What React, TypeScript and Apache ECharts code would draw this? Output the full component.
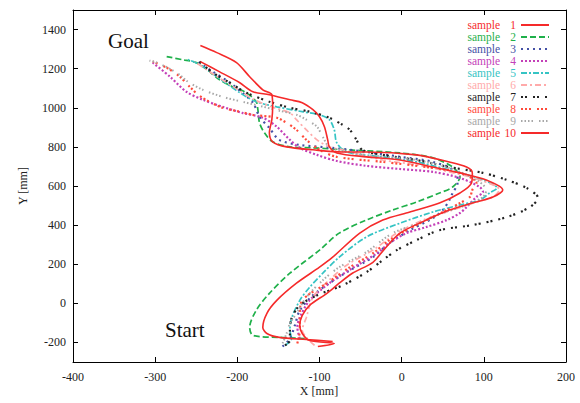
import React, { useEffect, useRef } from 'react';
import * as echarts from 'echarts';

const sampleNames = ['sample 1', 'sample 2', 'sample 3', 'sample 4', 'sample 5', 'sample 6', 'sample 7', 'sample 8', 'sample 9', 'sample 10'];

const sample1: number[][] = [
  [-84, -195], [-116, -185], [-149, -174], [-164, -154], [-169, -123], [-164, -51], [-152, 15], [-128, 103],
  [-100, 185], [-84, 236], [-51, 359], [-23, 426], [10, 467], [46, 513], [71, 564], [85, 615], [86, 667],
  [79, 697], [58, 723], [18, 759], [-43, 774], [-72, 774], [-108, 785], [-140, 800], [-157, 826], [-161, 872],
  [-158, 939], [-157, 1005], [-158, 1067], [-169, 1092], [-185, 1159], [-201, 1231], [-225, 1282], [-245, 1318],
];
const sample2: number[][] = [
  [-118, -180], [-149, -174], [-181, -164], [-185, -123], [-177, -36], [-161, 51], [-136, 154], [-100, 272],
  [-76, 359], [-43, 426], [-11, 477], [18, 518], [46, 564], [62, 595], [71, 646], [62, 697], [38, 744],
  [-2, 769], [-67, 785], [-108, 795], [-136, 800], [-157, 826], [-167, 872], [-173, 923], [-175, 990],
  [-177, 1031], [-189, 1077], [-206, 1108], [-222, 1144], [-237, 1195], [-250, 1231], [-267, 1246], [-286, 1262],
];
const sample3: number[][] = [
  [-145, -221], [-136, -180], [-130, -113], [-124, -36], [-108, 41], [-88, 103], [-63, 169], [-35, 236],
  [-15, 308], [10, 374], [38, 436], [50, 477], [58, 528], [62, 564], [68, 615], [67, 667], [38, 723],
  [-2, 749], [-43, 774], [-84, 795], [-124, 810], [-149, 836], [-161, 897], [-173, 954], [-181, 1026],
  [-194, 1077], [-209, 1128], [-230, 1185], [-248, 1236],
];
const sample4: number[][] = [
  [-124, -180], [-127, -123], [-124, -72], [-112, 15], [-88, 103], [-60, 180], [-30, 256], [-15, 308],
  [6, 359], [30, 390], [55, 426], [71, 462], [79, 492], [91, 544], [99, 569], [95, 595], [71, 641],
  [38, 672], [-2, 687], [-43, 703], [-79, 728], [-103, 759], [-124, 795], [-136, 836], [-152, 903],
  [-169, 949], [-194, 974], [-218, 1005], [-242, 1041], [-262, 1082], [-282, 1159], [-303, 1231],
];
const sample5: number[][] = [
  [-142, -215], [-134, -180], [-136, -139], [-134, -77], [-124, 15], [-112, 82], [-96, 154], [-76, 236],
  [-43, 339], [-2, 410], [38, 467], [71, 503], [95, 528], [107, 564], [116, 590], [99, 631], [58, 682],
  [18, 723], [-23, 749], [-67, 774], [-79, 821], [-82, 887], [-88, 939], [-100, 964], [-121, 980],
  [-152, 1005], [-177, 1031], [-197, 1077], [-225, 1159], [-246, 1221], [-260, 1246],
];
const sample6: number[][] = [
  [-106, -215], [-116, -174], [-121, -139], [-116, -72], [-108, 31], [-91, 108], [-67, 195], [-35, 272],
  [-6, 359], [26, 426], [62, 477], [91, 518], [111, 544], [119, 580], [95, 631], [58, 672], [18, 708],
  [-23, 733], [-72, 785], [-88, 800], [-103, 836], [-116, 887], [-128, 939], [-136, 974], [-155, 1000],
  [-179, 1041], [-203, 1103], [-228, 1169], [-252, 1236],
];
const sample7: number[][] = [
  [-142, -215], [-136, -190], [-136, -139], [-134, -77], [-124, -10], [-103, 41], [-72, 92], [-43, 159],
  [-23, 221], [-6, 272], [18, 323], [46, 374], [86, 400], [128, 441], [156, 492], [166, 539], [152, 590],
  [128, 631], [99, 667], [58, 697], [18, 733], [-23, 759], [-48, 785], [-55, 836], [-63, 887], [-72, 913],
  [-88, 949], [-112, 980], [-136, 1000], [-161, 1031], [-189, 1077], [-209, 1128], [-230, 1180], [-246, 1236],
];
const sample8: number[][] = [
  [-127, -205], [-124, -139], [-124, -62], [-121, 15], [-91, 103], [-63, 185], [-35, 256], [-15, 323],
  [6, 374], [30, 426], [55, 477], [71, 513], [83, 544], [86, 580], [91, 615], [71, 667], [30, 697],
  [-23, 723], [-79, 749], [-100, 785], [-116, 836], [-128, 887], [-140, 923], [-152, 949], [-181, 964],
  [-197, 980], [-218, 1000], [-234, 1031], [-248, 1067], [-258, 1108], [-270, 1159], [-286, 1205], [-303, 1236],
];
const sample9: number[][] = [
  [-145, -205], [-140, -154], [-136, -103], [-128, -51], [-116, 31], [-96, 118], [-76, 185], [-43, 262],
  [-11, 359], [22, 410], [50, 462], [79, 503], [99, 544], [103, 580], [91, 631], [58, 692], [18, 733],
  [-43, 759], [-67, 774], [-88, 800], [-96, 851], [-103, 903], [-116, 939], [-128, 964], [-149, 985],
  [-173, 1010], [-194, 1031], [-218, 1056], [-242, 1092], [-260, 1133], [-274, 1180], [-298, 1231], [-307, 1241],
];
const sample10: number[][] = [
  [-102, -221], [-82, -205], [-112, -190], [-121, -154], [-124, -113], [-121, -62], [-112, -10], [-91, 51],
  [-76, 103], [-60, 154], [-35, 210], [-21, 277], [-2, 359], [30, 426], [58, 477], [86, 513], [111, 544],
  [123, 580], [103, 631], [71, 667], [38, 697], [-2, 733], [-43, 749], [-79, 769], [-88, 800], [-90, 836],
  [-94, 903], [-100, 954], [-108, 990], [-121, 1026], [-136, 1041], [-161, 1067], [-181, 1082], [-197, 1128],
  [-222, 1185], [-245, 1236],
];

const samples = [sample1, sample2, sample3, sample4, sample5, sample6, sample7, sample8, sample9, sample10];

const colors = ['#f52a2a', '#1fb04a', '#4450a5', '#c440b8', '#35c4c4', '#ffaaaa', '#222222', '#ff4a3a', '#a8a8a8', '#f52a2a'];
const dashes: any[] = [
  'solid', [6, 3], [2, 4], [2, 2], [6, 2, 2, 2], [6, 3, 2, 3], [2, 2, 2, 6], [2, 2, 2, 2, 2, 6], [1.5, 2, 1.5, 2, 1.5, 2, 1.5, 6], 'solid',
];
const widths = [1.6, 1.7, 2.2, 2.2, 1.7, 1.7, 2.2, 2.2, 2, 1.6];

const FONT = '"Liberation Serif", "DejaVu Serif", serif';

export default function App() {
  const ref = useRef<HTMLDivElement>(null);
  useEffect(() => {
    document.body.style.margin = '0';
    if (!ref.current) return;
    const chart = echarts.init(ref.current, null, { renderer: 'svg' });
    const axisCommon: any = {
      type: 'value',
      axisLine: { show: true, onZero: false, lineStyle: { color: '#000', width: 1 } },
      axisTick: { show: true, inside: true, length: 5, lineStyle: { color: '#000', width: 1 } },
      splitLine: { show: false },
    };
    const labelStyle = { fontFamily: FONT, fontSize: 12, color: '#222' };
    chart.setOption({
      animation: false,
      backgroundColor: '#fff',
      grid: { left: 73, right: 14, top: 10, bottom: 41, containLabel: false },
      xAxis: [
        { ...axisCommon, min: -400, max: 200, interval: 100, position: 'bottom', axisLabel: { ...labelStyle, margin: 9 } },
        { ...axisCommon, min: -400, max: 200, interval: 100, position: 'top', axisLabel: { show: false } },
      ],
      yAxis: [
        {
          ...axisCommon, min: -300, max: 1500, splitNumber: 9, position: 'left',
          axisLabel: { ...labelStyle, margin: 7, showMinLabel: false, showMaxLabel: false, formatter: (v: number) => (v % 200 === 0 ? String(v) : '') },
        },
        { ...axisCommon, min: -300, max: 1500, splitNumber: 9, position: 'right', axisLabel: { show: false } },
      ],
      legend: {
        orient: 'vertical',
        right: 25,
        top: 14,
        align: 'right',
        itemWidth: 28,
        itemHeight: 11,
        itemGap: 0,
        selectedMode: false,
        itemStyle: { opacity: 0 },
        data: sampleNames.map((n, i) => ({ name: n, textStyle: { color: colors[i] } })),
        formatter: (name: string) => `{t|sample}{n|${name.replace('sample ', '')}}`,
        textStyle: {
          fontFamily: FONT, fontSize: 11.5, lineHeight: 11,
          rich: {
            t: { fontFamily: FONT, fontSize: 11.5, lineHeight: 11 },
            n: { fontFamily: FONT, fontSize: 11.5, lineHeight: 11, width: 16, align: 'right' },
          },
        },
      },
      graphic: [
        { type: 'text', x: 108, y: 41, style: { text: 'Goal', font: `21px ${FONT}`, fill: '#111', textVerticalAlign: 'middle', verticalAlign: 'middle' } },
        { type: 'text', x: 165, y: 330, style: { text: 'Start', font: `21px ${FONT}`, fill: '#111', textVerticalAlign: 'middle', verticalAlign: 'middle' } },
        { type: 'text', x: 319, y: 391, style: { text: 'X [mm]', font: `12px ${FONT}`, fill: '#222', textAlign: 'center', align: 'center', textVerticalAlign: 'middle', verticalAlign: 'middle' } },
        { type: 'text', x: 23, y: 186, rotation: Math.PI / 2, style: { text: 'Y [mm]', font: `12px ${FONT}`, fill: '#222', textAlign: 'center', align: 'center', textVerticalAlign: 'middle', verticalAlign: 'middle' } },
      ],
      series: samples.map((d, i) => ({
        name: sampleNames[i],
        type: 'line',
        data: d,
        xAxisIndex: 0,
        yAxisIndex: 0,
        symbol: 'none',
        smooth: 0.3,
        lineStyle: { color: colors[i], width: widths[i], type: dashes[i], cap: 'butt' },
        itemStyle: { color: colors[i] },
        z: i === 0 || i === 9 ? 5 : 3,
      })),
    });
    return () => chart.dispose();
  }, []);
  return <div ref={ref} style={{ width: 580, height: 403 }} />;
}
